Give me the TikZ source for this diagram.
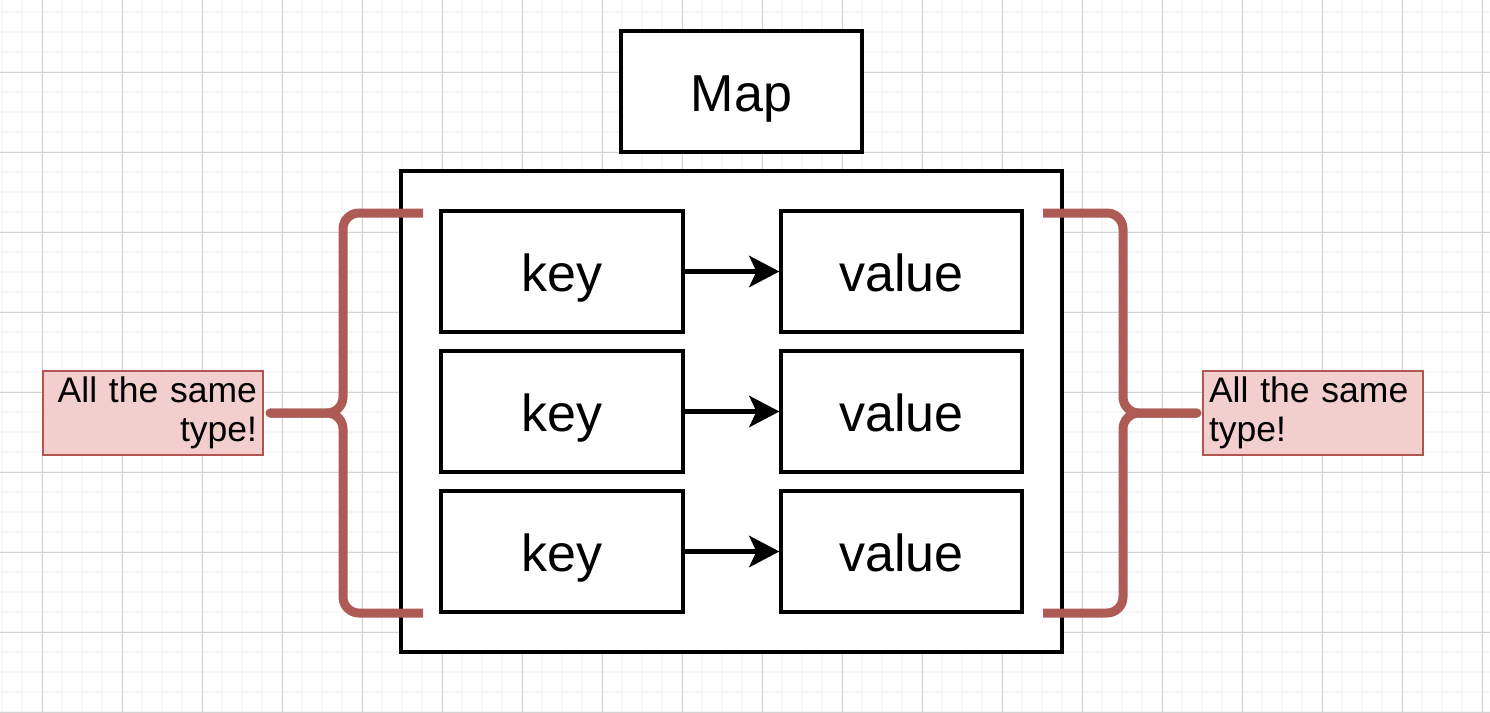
\documentclass[tikz,border=0pt]{standalone}
\usepackage{fontspec}
\setmainfont{Liberation Sans}
\usetikzlibrary{arrows.meta}
\definecolor{minorgrid}{HTML}{F6F6F6}
\definecolor{majorgrid}{HTML}{D2D2D2}
\definecolor{bracecol}{HTML}{AE5A55}
\definecolor{notefill}{HTML}{F2CFCD}
\definecolor{noteline}{HTML}{B0554F}
\begin{document}
\begin{tikzpicture}[x=1pt,y=-1pt,
  box/.style={draw=black,fill=white,line width=3.2pt,minimum width=242pt,minimum height=121pt,
    inner sep=0pt,text height=40pt,text depth=0pt,font=\fontsize{52}{60}\selectfont},
  link/.style={line width=5.5pt,-{Stealth[length=30pt,width=31pt,inset=7pt]}},
  bracestroke/.style={draw=bracecol,line width=9pt,rounded corners=16pt},
  note/.style={draw=noteline,line width=1.5pt,fill=notefill,minimum width=220pt,minimum height=80pt,
    text width=208pt,inner sep=6pt,font=\fontsize{35.5}{39}\selectfont}]
  \useasboundingbox (0,0) rectangle (1490,712);
  \fill[white] (0,0) rectangle (1490,712);
  % background grid
  \foreach \x in {2,22,...,1490} \draw[minorgrid,line width=2pt] (\x,0) -- (\x,712);
  \foreach \y in {12,32,...,712} \draw[minorgrid,line width=2pt] (0,\y) -- (1490,\y);
  \foreach \x in {42,122,...,1490} \draw[majorgrid,line width=1pt] (\x,0) -- (\x,712);
  \foreach \y in {72,152,...,712} \draw[majorgrid,line width=1pt] (0,\y) -- (1490,\y);

  % title and container
  \node[box,minimum width=241pt] (map) at (741.5,91.5) {Map};
  \node[draw=black,fill=white,line width=3.2pt,minimum width=661pt,minimum height=481pt,inner sep=0pt]
    (container) at (731.5,411.5) {};

  % key/value pairs
  \foreach \i/\y in {1/271.5,2/411.5,3/551.5} {
    \node[box] (key\i) at (562,\y) {key};
    \node[box,minimum width=241pt] (value\i) at (901.5,\y) {value};
    \draw[link] (key\i.east) -- (value\i.west);
  }

  % notes
  \node[note,align=right] (leftnote) at (153,413) {All the same\\type!};
  \node[note,align=left] (rightnote) at (1313,413) {All the same\\type!};

  % left brace
  \coordinate (ltop) at (423,213);
  \coordinate (lbot) at (423,613);
  \coordinate (ltip) at (270,413);
  \draw[bracestroke] (ltop) -- (343,213) -- (343,413) -- (ltip);
  \draw[bracestroke] (ltip) -- (343,413) -- (343,613) -- (lbot);
  \fill[bracecol] (ltip) circle (4.5pt);

  % right brace
  \coordinate (rtop) at (1043,213);
  \coordinate (rbot) at (1043,613);
  \coordinate (rtip) at (1197,413);
  \draw[bracestroke] (rtop) -- (1123,213) -- (1123,413) -- (rtip);
  \draw[bracestroke] (rtip) -- (1123,413) -- (1123,613) -- (rbot);
  \fill[bracecol] (rtip) circle (4.5pt);
\end{tikzpicture}
\end{document}
